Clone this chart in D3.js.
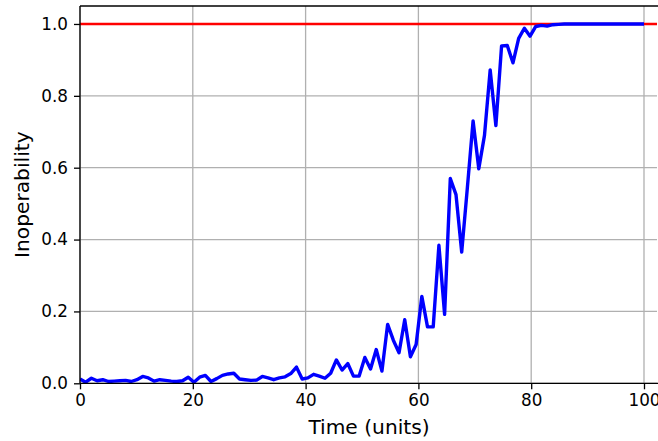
<!DOCTYPE html>
<html>
<head>
<meta charset="utf-8">
<script src="https://cdn.jsdelivr.net/npm/d3@7"></script>
<style>
  html, body { margin: 0; padding: 0; background: #fff; }
  svg { display: block; font-family: "DejaVu Sans", sans-serif; }
</style>
</head>
<body>
<svg id="chart" width="658" height="441"></svg>
<script>
// ---- data ----
const nPoints = 100;
const timeStart = 0;
const timeEnd = 100;
const inoperability = [
  0.012, 0.003, 0.014, 0.007, 0.010, 0.005, 0.006, 0.007, 0.008, 0.005,
  0.010, 0.019, 0.015, 0.006, 0.010, 0.008, 0.006, 0.005, 0.007, 0.017,
  0.003, 0.017, 0.022, 0.005, 0.013, 0.022, 0.026, 0.028, 0.012, 0.010,
  0.008, 0.009, 0.019, 0.015, 0.010, 0.015, 0.018, 0.027, 0.045, 0.012,
  0.015, 0.025, 0.020, 0.014, 0.028, 0.065, 0.037, 0.055, 0.020, 0.020,
  0.072, 0.040, 0.094, 0.034, 0.164, 0.120, 0.085, 0.177, 0.074, 0.108,
  0.242, 0.157, 0.157, 0.384, 0.192, 0.570, 0.525, 0.365, 0.545, 0.730,
  0.597, 0.690, 0.872, 0.717, 0.939, 0.940, 0.892, 0.960, 0.988, 0.966,
  0.993, 0.996, 0.994, 0.998, 0.999, 1.000, 1.000, 1.000, 1.000, 1.000,
  1.000, 1.000, 1.000, 1.000, 1.000, 1.000, 1.000, 1.000, 1.000, 1.000
];
// time axis = evenly spaced samples from timeStart to timeEnd
const times = inoperability.map((_, i) => timeStart + i * (timeEnd - timeStart) / (nPoints - 1));
const thresholdValue = 1.0;
const xTicks = [0, 20, 40, 60, 80, 100];
const yTicks = [0.0, 0.2, 0.4, 0.6, 0.8, 1.0];
const xLabel = "Time (units)";
const yLabel = "Inoperability";

// ---- layout ----
const svg = d3.select("#chart");
const mLeft = 80, mTop = 6, mBottom = 383.3, mRight = 657;
const x = d3.scaleLinear().domain([0, 100]).range([mLeft, 644]);
const y = d3.scaleLinear().domain([0, 1.05]).range([mBottom, mTop]);

svg.append("defs").append("clipPath").attr("id", "clip")
  .append("rect").attr("x", mLeft).attr("y", mTop).attr("width", mRight - mLeft).attr("height", mBottom - mTop);

const grid = svg.append("g").attr("stroke", "#b0b0b0").attr("stroke-width", 1.3);
grid.selectAll("line.v").data(xTicks).join("line").attr("class", "v")
  .attr("x1", d => x(d)).attr("x2", d => x(d)).attr("y1", mTop).attr("y2", mBottom);
grid.selectAll("line.h").data(yTicks).join("line").attr("class", "h")
  .attr("x1", mLeft).attr("x2", mRight).attr("y1", d => y(d)).attr("y2", d => y(d));

const plot = svg.append("g").attr("clip-path", "url(#clip)");
plot.append("line")
  .attr("x1", mLeft).attr("x2", mRight)
  .attr("y1", y(thresholdValue)).attr("y2", y(thresholdValue))
  .attr("stroke", "#ff0000").attr("stroke-width", 2.5);

const line = d3.line().x((d, i) => x(times[i])).y(d => y(d));
plot.append("path").datum(inoperability)
  .attr("d", line).attr("fill", "none")
  .attr("stroke", "#0000ff").attr("stroke-width", 3.4)
  .attr("stroke-linejoin", "round").attr("stroke-linecap", "butt");

// spines
const sp = svg.append("g").attr("stroke", "#000").attr("stroke-width", 1.3).attr("fill", "none");
sp.append("line").attr("x1", mLeft).attr("x2", mLeft).attr("y1", mTop).attr("y2", mBottom);
sp.append("line").attr("x1", mLeft).attr("x2", 660).attr("y1", mBottom).attr("y2", mBottom);
sp.append("line").attr("x1", mLeft).attr("x2", 660).attr("y1", mTop).attr("y2", mTop);

// axes
const xAxis = d3.axisBottom(x).tickValues(xTicks).tickFormat(d3.format("d")).tickSize(6).tickPadding(5);
const gx = svg.append("g").attr("transform", `translate(0,${mBottom})`).call(xAxis);
gx.select(".domain").remove();
gx.selectAll(".tick line").attr("stroke", "#000").attr("stroke-width", 1.3);
gx.selectAll(".tick text").attr("font-size", 16.8).attr("fill", "#000").attr("font-family", "DejaVu Sans");

const yAxis = d3.axisLeft(y).tickValues(yTicks).tickFormat(d3.format(".1f")).tickSize(6).tickPadding(6);
const gy = svg.append("g").attr("transform", `translate(${mLeft},0)`).call(yAxis);
gy.select(".domain").remove();
gy.selectAll(".tick line").attr("stroke", "#000").attr("stroke-width", 1.3);
gy.selectAll(".tick text").attr("font-size", 16.8).attr("fill", "#000").attr("font-family", "DejaVu Sans");

svg.append("text").attr("x", (mLeft + 658) / 2).attr("y", 434)
  .attr("text-anchor", "middle").attr("font-size", 20.2).attr("fill", "#000").text(xLabel);
svg.append("text").attr("transform", `translate(29,${(mTop + mBottom) / 2}) rotate(-90)`)
  .attr("text-anchor", "middle").attr("font-size", 20.2).attr("fill", "#000").text(yLabel);
</script>
</body>
</html>
